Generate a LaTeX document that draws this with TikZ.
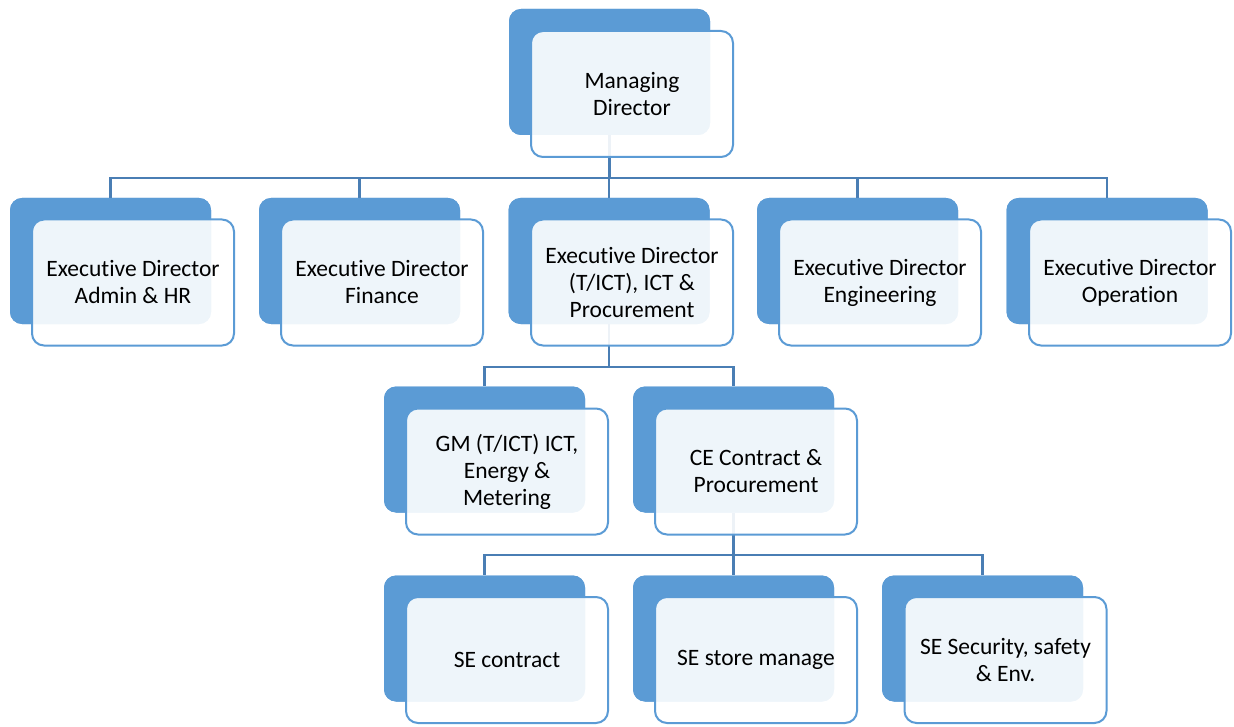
\documentclass[tikz,border=0pt]{standalone}
\usepackage{fontspec}
\setmainfont[Ligatures=NoCommon]{Carlito}
\definecolor{backblue}{HTML}{5B9BD5}
\definecolor{linkblue}{HTML}{4A7EB4}
\begin{document}
\begin{tikzpicture}[x=1pt,y=-1pt,
  backbox/.style={rectangle, rounded corners=12pt, fill=backblue, minimum width=201pt, minimum height=126pt, inner sep=0pt},
  frontbox/.style={rectangle, rounded corners=12pt, draw=backblue, line width=2pt, fill=white, fill opacity=0.9, text opacity=1, minimum width=202pt, minimum height=126pt, inner sep=2pt, align=center, font=\fontsize{23.5}{27}\selectfont},
  conn/.style={draw=linkblue, line width=2.8pt}]
\useasboundingbox (0,0) rectangle (1234,727);
% back boxes
\node[backbox] (mdb) at (609.5,72) {};
\node[backbox] (adminb) at (110.5,261) {};
\node[backbox] (finb) at (359.5,261) {};
\node[backbox] (ictb) at (609,261) {};
\node[backbox] (engb) at (857.5,261) {};
\node[backbox] (opb) at (1107,261) {};
\node[backbox] (gmb) at (484.5,449.5) {};
\node[backbox] (ceb) at (733.5,449.5) {};
\node[backbox] (secb) at (484.5,638.5) {};
\node[backbox] (sesb) at (733.5,638.5) {};
\node[backbox] (sessb) at (982.5,638.5) {};
% bus coordinates
\coordinate (bus1) at (609,178);
\coordinate (bus2) at (609,367);
\coordinate (bus3) at (733.5,555);
% connectors
\foreach \c in {adminb,finb,ictb,engb,opb}
  \draw[conn] (mdb.south) -- (mdb.south |- bus1) -| (\c.north);
\foreach \c in {gmb,ceb}
  \draw[conn] (ictb.south) -- (ictb.south |- bus2) -| (\c.north);
\foreach \c in {secb,sesb,sessb}
  \draw[conn] (ceb.south) -- (ceb.south |- bus3) -| (\c.north);
% redraw back boxes over connectors
\foreach \c in {mdb,adminb,finb,ictb,engb,opb,gmb,ceb,secb,sesb,sessb}
  \node[backbox] at (\c) {};
% front boxes
\node[frontbox] (md) at (632,94) {Managing\\Director};
\node[frontbox] (admin) at (133,282.5) {Executive Director\\Admin \& HR};
\node[frontbox] (fin) at (382,282.5) {Executive Director\\Finance};
\node[frontbox] (ict) at (632,282.5) {Executive Director\\(T/ICT), ICT \&\\Procurement};
\node[frontbox] (eng) at (880,282.5) {Executive Director\\Engineering};
\node[frontbox] (op) at (1130,282.5) {Executive Director\\Operation};
\node[frontbox] (gm) at (507,471.5) {GM (T/ICT) ICT,\\Energy \&\\Metering};
\node[frontbox] (ce) at (756,471.5) {CE Contract \&\\Procurement};
\node[frontbox] (sec) at (507,660) {SE contract};
\node[frontbox] (ses) at (756,660) {SE store manage};
\node[frontbox] (sess) at (1005.5,660) {SE Security, safety\\\& Env.};
\end{tikzpicture}
\end{document}
